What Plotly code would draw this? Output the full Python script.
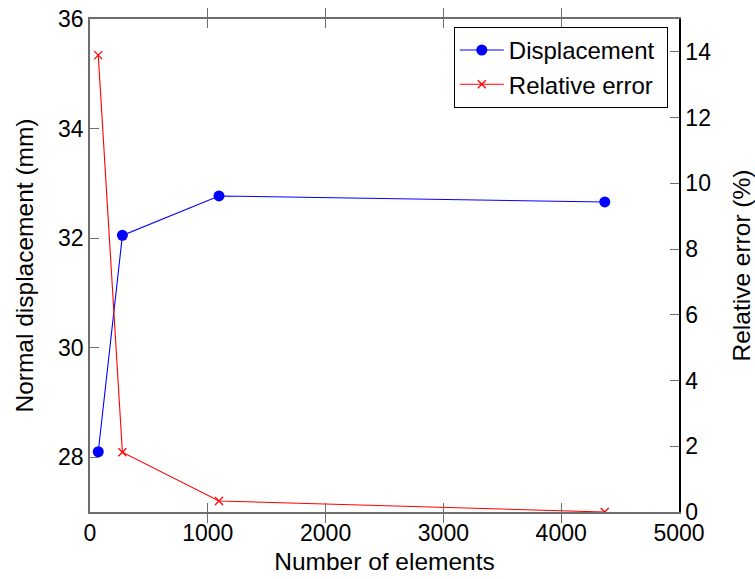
import plotly.graph_objects as go

elements = [70, 275, 1095, 4370]
displacement = [28.1, 32.05, 32.77, 32.66]
rel_error = [13.9, 1.82, 0.335, 0.0]

x_ticks = [0, 1000, 2000, 3000, 4000, 5000]
y1_ticks = [28, 30, 32, 34, 36]
y2_ticks = [0, 2, 4, 6, 8, 10, 12, 14]

FONT = "Liberation Sans, Arial, sans-serif"
AX = "#6e6e6e"
TITLE_SIZE = 24.5

fig = go.Figure()
fig.add_trace(go.Scatter(
    x=elements, y=displacement, name="Displacement\u00a0", mode="lines+markers",
    line=dict(color="#0000ff", width=1.1),
    marker=dict(symbol="circle", size=11, color="#0000ff"),
    yaxis="y"))
fig.add_trace(go.Scatter(
    x=elements, y=rel_error, name="Relative error", mode="lines+markers",
    line=dict(color="#ff0000", width=1.1),
    marker=dict(symbol="x-thin", size=8, color="#ff0000",
                line=dict(color="#ff0000", width=1.3)),
    yaxis="y2"))

fig.update_layout(
    width=755, height=579,
    margin=dict(l=90, r=76, t=19, b=67, autoexpand=False),
    paper_bgcolor="white", plot_bgcolor="white",
    font=dict(family=FONT, size=23, color="black"),
    showlegend=True,
    legend=dict(x=0.981, y=0.984, xanchor="right", yanchor="top",
                bordercolor="black", borderwidth=1, bgcolor="white",
                font=dict(size=24), tracegroupgap=0,
                itemwidth=44),
    xaxis=dict(range=[0, 5000], tickvals=x_ticks, automargin=False,
               title=dict(text="Number of elements", standoff=8,
                          font=dict(size=TITLE_SIZE)),
               showgrid=False, zeroline=False,
               showline=True, linecolor=AX, linewidth=1.5, mirror="allticks",
               ticks="inside", ticklen=9, tickcolor=AX, tickwidth=1),
    yaxis=dict(range=[27, 36], tickvals=y1_ticks, automargin=False,
               title=dict(text="Normal displacement (mm)", standoff=17,
                          font=dict(size=TITLE_SIZE)),
               showgrid=False, zeroline=False,
               showline=True, linecolor=AX, linewidth=1.5,
               ticks="inside", ticklen=9, tickcolor=AX, tickwidth=1),
    yaxis2=dict(range=[0, 15], tickvals=y2_ticks, overlaying="y", side="right",
                automargin=False,
                title=dict(text="Relative error (%)", standoff=24,
                           font=dict(size=TITLE_SIZE)),
                showgrid=False, zeroline=False,
                showline=True, linecolor="black", linewidth=1.5,
                ticks="inside", ticklen=9, tickcolor=AX, tickwidth=1),
)

fig.write_html("out.html")
